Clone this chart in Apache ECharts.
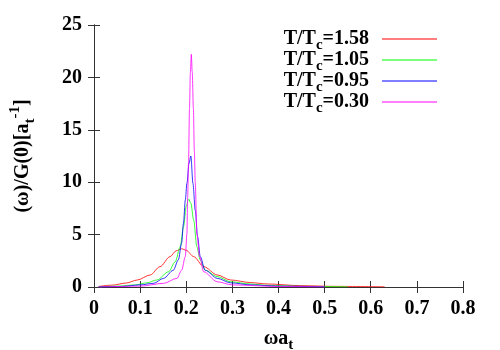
<!DOCTYPE html>
<html>
<head>
<meta charset="utf-8">
<script src="https://cdn.jsdelivr.net/npm/echarts@6/dist/echarts.min.js"></script>
<style>
  html, body { margin: 0; padding: 0; background: #fff; }
  #chart { width: 500px; height: 350px; }
</style>
</head>
<body>
<div id="chart"></div>
<script>
// values
const labels = ["1.58", "1.05", "0.95", "0.30"];
const colors = ["#ff0000", "#00ff00", "#0000ff", "#ff00ff"];

const xRed = [0.01, 0.04, 0.07, 0.094, 0.122, 0.143, 0.165, 0.178, 0.19, 0.2, 0.216, 0.238, 0.267, 0.296, 0.34, 0.375, 0.448, 0.52, 0.63];
const yRed = [0.05, 0.18, 0.38, 0.67, 1.15, 1.94, 2.9, 3.45, 3.65, 3.5, 2.9, 1.94, 1.15, 0.67, 0.42, 0.29, 0.13, 0.06, 0.02];

const xGreen = [0.01, 0.05, 0.09, 0.115, 0.136, 0.162, 0.176, 0.187, 0.194, 0.2, 0.205, 0.21, 0.216, 0.223, 0.23, 0.241, 0.267, 0.296, 0.34, 0.375, 0.45, 0.55];
const yGreen = [0.02, 0.08, 0.2, 0.4, 0.67, 1.46, 2.4, 3.85, 5.75, 7.7, 8.4, 8.0, 6.4, 3.85, 2.6, 1.6, 1.0, 0.5, 0.28, 0.16, 0.06, 0.02];

const xBlue = [0.01, 0.06, 0.1, 0.129, 0.151, 0.172, 0.183, 0.19, 0.194, 0.198, 0.2015, 0.206, 0.21, 0.2145, 0.2196, 0.2246, 0.2304, 0.241, 0.267, 0.296, 0.34, 0.4, 0.5];
const yBlue = [0.01, 0.05, 0.2, 0.35, 0.83, 1.6, 2.6, 4.2, 6.1, 8.3, 9.9, 11.8, 12.5, 9.9, 7.3, 4.8, 2.9, 1.6, 0.83, 0.4, 0.2, 0.08, 0.02];

const xPink = [0.01, 0.1, 0.151, 0.18, 0.19, 0.198, 0.2015, 0.203, 0.205, 0.207, 0.209, 0.211, 0.213, 0.2155, 0.2175, 0.2196, 0.223, 0.229, 0.2376, 0.267, 0.3, 0.4, 0.5];
const yPink = [0.0, 0.08, 0.35, 0.83, 1.6, 2.9, 5.1, 8.5, 12, 17, 20.5, 22.2, 20.5, 17, 13, 9.9, 5.1, 2.9, 1.46, 0.5, 0.2, 0.05, 0.01];

const xTicks = [0, 0.1, 0.2, 0.3, 0.4, 0.5, 0.6, 0.7, 0.8];
const yTicks = [0, 5, 10, 15, 20, 25];

const xs = [xRed, xGreen, xBlue, xPink];
const ys = [yRed, yGreen, yBlue, yPink];

const font = "Liberation Serif";
const axisColor = "#333";

// bold serif pieces for sub/superscripts
const txt = (size, lh, va) => ({
  fontFamily: font, fontWeight: "bold", fontSize: size,
  lineHeight: lh, verticalAlign: va, color: "#000",
});

const chart = echarts.init(document.getElementById("chart"));

const series = labels.map((lab, i) => ({
  name: lab,
  type: "line",
  xAxisIndex: 0,
  yAxisIndex: 0,
  showSymbol: false,
  smooth: 0.3,
  smoothMonotone: "x",
  lineStyle: { width: 0.8, color: colors[i] },
  itemStyle: { color: colors[i] },
  data: xs[i].map((x, k) => [x, ys[i][k]]),
}));

const tickStyle = { inside: true, length: 6, lineStyle: { color: axisColor } };

const option = {
  animation: false,
  grid: { left: 94, right: 37, top: 25, bottom: 63, outerBoundsMode: "none" },
  legend: {
    orient: "vertical",
    right: 58,
    top: 24,
    align: "right",
    itemGap: -3,
    itemWidth: 55,
    itemHeight: 1,
    icon: "rect",
    data: labels,
    formatter: (name) => "{a|T/T}{s|c}{a|=" + name + "}{g|}",
    textStyle: {
      rich: {
        a: txt(20, 28, "middle"),
        s: txt(15, 28, "bottom"),
        g: { width: 8 },
      },
    },
  },
  xAxis: [
    {
      type: "value",
      min: 0,
      max: 0.8,
      interval: 0.1,
      name: "{a|ωa}{s|t}",
      nameLocation: "middle",
      nameGap: 38,
      nameTextStyle: {
        rich: {
          a: txt(20, 28, "middle"),
          s: txt(15, 28, "bottom"),
        },
      },
      axisLine: { lineStyle: { color: axisColor } },
      axisTick: tickStyle,
      splitLine: { show: false },
      axisLabel: {
        margin: 12,
        fontFamily: font,
        fontWeight: "bold",
        fontSize: 20,
        color: "#000",
        formatter: (v) => xTicks.includes(+v.toFixed(1)) ? String(+v.toFixed(1)) : "",
      },
    },
    {
      type: "value",
      position: "top",
      min: 0,
      max: 0.8,
      interval: 0.1,
      axisLine: { show: true, lineStyle: { color: axisColor } },
      axisTick: tickStyle,
      axisLabel: { show: false },
      splitLine: { show: false },
    },
  ],
  yAxis: [
    {
      type: "value",
      min: 0,
      max: 25,
      interval: 5,
      name: "{a|(ω)/G(0)[a}{s|t}{p|-1}{a|]}",
      nameLocation: "middle",
      nameRotate: 90,
      nameGap: 56,
      nameTextStyle: {
        rich: {
          a: txt(20, 30, "middle"),
          s: txt(15, 30, "bottom"),
          p: txt(15, 30, "top"),
        },
      },
      axisLine: { show: true, lineStyle: { color: axisColor } },
      axisTick: tickStyle,
      splitLine: { show: false },
      axisLabel: {
        margin: 12,
        fontFamily: font,
        fontWeight: "bold",
        fontSize: 20,
        color: "#000",
        formatter: (v) => yTicks.includes(v) ? String(v) : "",
      },
    },
    {
      type: "value",
      position: "right",
      min: 0,
      max: 25,
      interval: 5,
      axisLine: { show: true, lineStyle: { color: axisColor } },
      axisTick: tickStyle,
      axisLabel: { show: false },
      splitLine: { show: false },
    },
  ],
  series: series,
};

chart.setOption(option);
</script>
</body>
</html>
